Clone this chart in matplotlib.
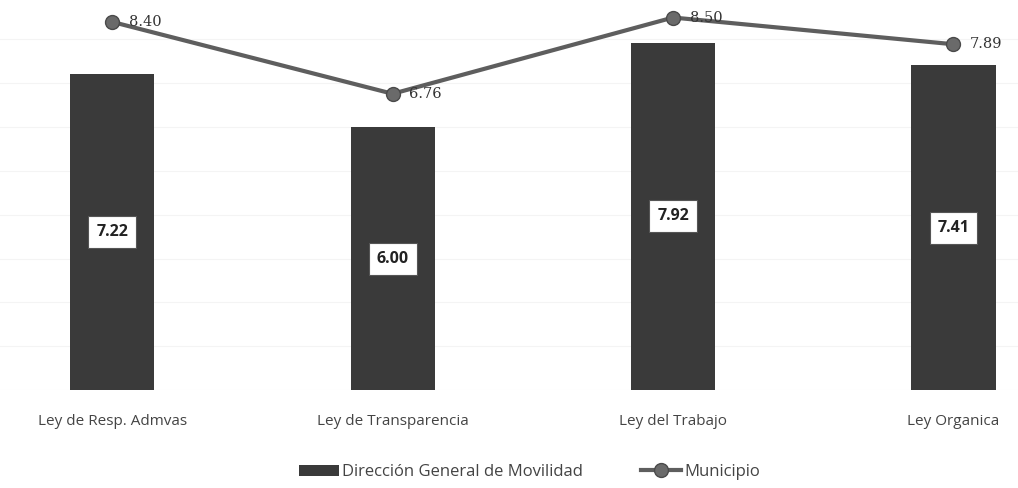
import matplotlib.pyplot as plt

# data
categories = ['Ley de Resp. Admvas', 'Ley de Transparencia', 'Ley del Trabajo', 'Ley Organica']
direccion = [7.22, 6.00, 7.92, 7.41]
municipio = [8.40, 6.76, 8.50, 7.89]

plt.rcParams['font.family'] = ['Open Sans', 'DejaVu Sans']

fig = plt.figure(figsize=(10.18, 4.88), dpi=100)
ax = fig.add_axes([0, 0.2008, 1, 0.7992])

x = range(len(categories))

# bars
bars = ax.bar(x, direccion, width=0.3, color='#3a3a3a',
              label='Dirección General de Movilidad', zorder=2)

for xi, v in zip(x, direccion):
    ax.text(xi, v / 2, f'{v:.2f}', ha='center', va='center', fontsize=11.5,
            fontweight='bold', color='#222222', zorder=4,
            bbox=dict(boxstyle='square,pad=0.5', facecolor='white',
                      edgecolor='#555555', linewidth=0.8))

# line
line, = ax.plot(x, municipio, color='#5e5e5e', linewidth=3, marker='o', markersize=10,
                markerfacecolor='#6a6a6a', markeredgecolor='#4a4a4a',
                label='Municipio', zorder=3)
for xi, v in zip(x, municipio):
    ax.annotate(f'{v:.2f}', (xi, v), xytext=(12, 0), textcoords='offset points',
                ha='left', va='center', fontsize=10.5, color='#333333',
                family='DejaVu Serif')

ax.set_xlim(-0.4, 3.23)
ax.set_ylim(0, 8.9)
ax.yaxis.grid(True, color='#f4f4f4', linewidth=0.8, zorder=0)
ax.set_yticks(range(0, 9))
ax.tick_params(left=False, labelleft=False, bottom=False)
ax.set_xticks(list(x))
ax.set_xticklabels(categories, fontsize=11, color='#444444')
ax.tick_params(axis='x', pad=14)
for s in ax.spines.values():
    s.set_visible(False)

fig.legend([bars, line], ['Dirección General de Movilidad', 'Municipio'],
           loc='lower center', bbox_to_anchor=(0.52, -0.015), ncol=2,
           frameon=False, fontsize=12, handlelength=2.4, columnspacing=3.5,
           handletextpad=0.2, labelcolor='#444444')

fig.savefig('out.png', dpi=100)
